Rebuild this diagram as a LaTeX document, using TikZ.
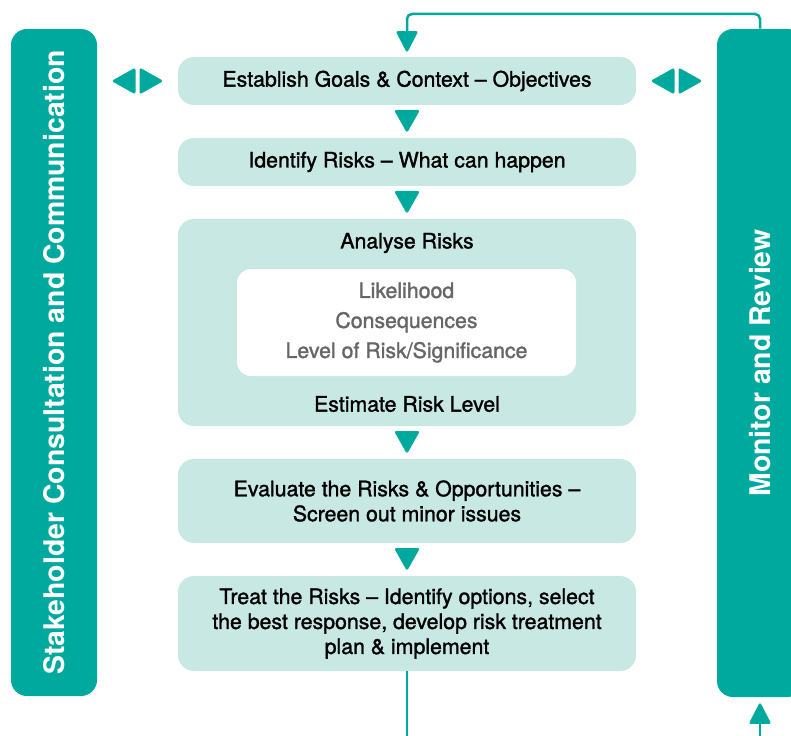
\documentclass[tikz,border=0pt]{standalone}
\usepackage{fontspec}
\setmainfont{TeX Gyre Heros}
\newfontfamily\stepfont[FakeBold=1.4]{TeX Gyre Heros}
\usetikzlibrary{arrows.meta,calc}

\definecolor{riskteal}{RGB}{0,169,157}
\definecolor{risklight}{RGB}{200,232,228}
\definecolor{riskgrey}{RGB}{102,102,102}

\tikzset{every picture/.style={line width=0.75pt}}

\begin{document}
\begin{tikzpicture}[x=1pt,y=1pt,yscale=-1,
  stepbox/.style={fill=risklight,rounded corners=16pt,minimum width=458pt,inner sep=0pt,align=center,font=\stepfont\fontsize{21.3}{25}\selectfont},
  steptext/.style={inner sep=0pt,font=\stepfont\fontsize{21.3}{25}\selectfont},
  innerbox/.style={fill=white,rounded corners=14pt,minimum width=339pt,minimum height=107pt,inner sep=0pt,align=center,text=riskgrey,font=\stepfont\fontsize{21.3}{30}\selectfont},
  sidebar/.style={fill=riskteal,rounded corners=16pt,rotate=90,inner sep=0pt,text=white,font=\fontsize{28.4}{32}\bfseries\selectfont},
  flowline/.style={draw=riskteal,line width=2.5pt,rounded corners=5pt},
  flowarrow/.style={-{Triangle[width=22pt,length=22pt,round]}},
  downtip/.pic={\fill[riskteal,rounded corners=2.5pt] (-13,11.5) -- (13,11.5) -- (0,-11.5) -- cycle;},
  sidetips/.pic={
    \fill[riskteal,rounded corners=2.5pt] (-2,-13.5) -- (-2,13.5) -- (-26,0) -- cycle;
    \fill[riskteal,rounded corners=2.5pt] (2,-13.5) -- (2,13.5) -- (26,0) -- cycle;}
]
\useasboundingbox (0,0) rectangle (791,735);

% side bars
\node[sidebar,minimum width=667pt,minimum height=86pt] (stake) at (54,362.5) {Stakeholder Consultation and Communication};
\node[sidebar,minimum width=668pt,minimum height=86pt] (mon) at (760,363) {Monitor and Review};

% process steps
\node[stepbox,minimum height=48pt] (est) at (407,81) {Establish Goals \& Context – Objectives};
\node[stepbox,minimum height=48pt] (ide) at (407,162) {Identify Risks – What can happen};
\node[stepbox,minimum height=207pt] (ana) at (407,322.5) {};
\node[steptext] (anatitle) at (407,243) {Analyse Risks};
\node[innerbox] (anainner) at (406.5,322.5) {Likelihood\\Consequences\\Level of Risk/Significance};
\node[steptext] (anaest) at (407,404) {Estimate Risk Level};
\node[stepbox,minimum height=84pt] (eva) at (407,501) {Evaluate the Risks \& Opportunities –\\Screen out minor issues};
\node[stepbox,minimum height=95pt] (tre) at (407,623.5) {Treat the Risks – Identify options, select\\the best response, develop risk treatment\\plan \& implement};

% arrows between the steps
\pic at ($(est.south)!0.5!(ide.north)$) {downtip};
\pic at ($(ide.south)!0.5!(ana.north)$) {downtip};
\pic at ($(ana.south)!0.5!(eva.north)$) {downtip};
\pic at ($(eva.south)!0.5!(tre.north)$) {downtip};

% two-way links to the bars
\pic at ($(stake.south |- est.west)!0.5!(est.west)$) {sidetips};
\pic at ($(est.east)!0.5!(mon.north |- est.east)$) {sidetips};

% feedback loop
\coordinate (looptop) at (407,14);
\coordinate (treatout) at (407,740);
\coordinate (monin) at (760,740);
\draw[flowline,flowarrow,shorten >=5pt] (mon.east) |- (looptop) -- (est.north);
\draw[flowline] (tre.south) -- (treatout);
\draw[flowline,flowarrow,shorten >=6pt] (monin) -- (mon.west);
\end{tikzpicture}
\end{document}
